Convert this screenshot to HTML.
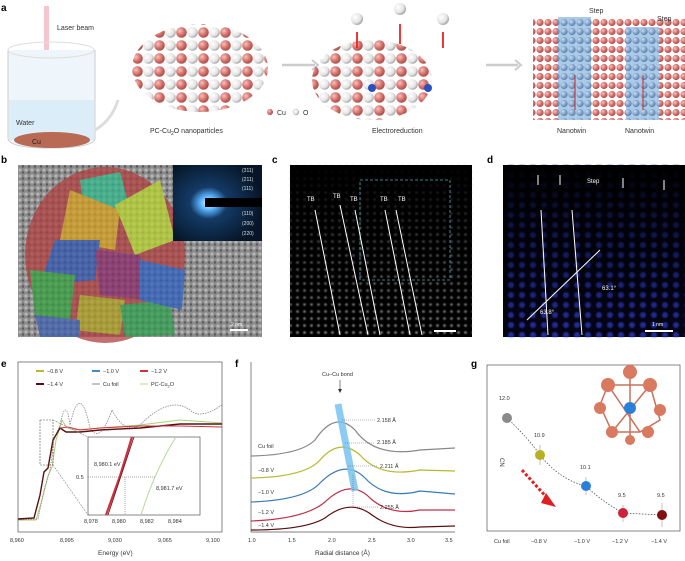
<!DOCTYPE html>
<html><head><meta charset="utf-8"><style>
html,body{margin:0;padding:0;background:#fff}
svg{display:block;font-family:"Liberation Sans",sans-serif}
</style></head><body>
<svg width="685" height="561" viewBox="0 0 685 561" xmlns="http://www.w3.org/2000/svg">
<defs>
<radialGradient id="cu" cx="35%" cy="35%" r="65%"><stop offset="0" stop-color="#f3c3bf"/><stop offset="0.6" stop-color="#d8716c"/><stop offset="1" stop-color="#a9504c"/></radialGradient>
<radialGradient id="ox" cx="35%" cy="35%" r="65%"><stop offset="0" stop-color="#ffffff"/><stop offset="0.7" stop-color="#e4e4e4"/><stop offset="1" stop-color="#aaa"/></radialGradient>
<radialGradient id="bl" cx="35%" cy="35%" r="65%"><stop offset="0" stop-color="#c9dcf3"/><stop offset="1" stop-color="#5c80b0"/></radialGradient>
<pattern id="cuP" width="8" height="9" patternUnits="userSpaceOnUse"><circle cx="4" cy="4.5" r="3.6" fill="url(#cu)"/></pattern>
<pattern id="blP" width="8" height="9" patternUnits="userSpaceOnUse"><rect width="8" height="9" fill="#a9cbe8"/><circle cx="4" cy="4.5" r="3.6" fill="url(#bl)"/></pattern>
<pattern id="mixP" width="22" height="13" patternUnits="userSpaceOnUse"><circle cx="5.5" cy="6.5" r="5.3" fill="url(#cu)"/><circle cx="16.5" cy="6.5" r="5.3" fill="url(#ox)"/></pattern>
<pattern id="dotW" width="7" height="7" patternUnits="userSpaceOnUse"><circle cx="3.5" cy="3.5" r="1.3" fill="#aaa"/></pattern>
<pattern id="dotB" width="11" height="10" patternUnits="userSpaceOnUse"><circle cx="5" cy="5" r="3" fill="#2c3bc8"/></pattern>
<pattern id="tem" width="6" height="6" patternUnits="userSpaceOnUse"><rect width="6" height="6" fill="#8a8a8a"/><circle cx="2" cy="2" r="1.6" fill="#b5b5b5"/><circle cx="5" cy="4.5" r="1.2" fill="#5a5a5a"/></pattern>
<linearGradient id="fadeC" x1="0" y1="0" x2="0" y2="1"><stop offset="0" stop-color="#000" stop-opacity="1"/><stop offset="0.5" stop-color="#000" stop-opacity="0.5"/><stop offset="1" stop-color="#000" stop-opacity="0.1"/></linearGradient>
<linearGradient id="fadeD" x1="0" y1="0" x2="0" y2="1"><stop offset="0" stop-color="#000" stop-opacity="1"/><stop offset="0.3" stop-color="#000" stop-opacity="0.7"/><stop offset="1" stop-color="#000" stop-opacity="0.2"/></linearGradient>
<radialGradient id="diff" cx="40%" cy="50%" r="60%"><stop offset="0" stop-color="#fff"/><stop offset="0.15" stop-color="#5ab4ff"/><stop offset="0.35" stop-color="#143a66"/><stop offset="1" stop-color="#061628"/></radialGradient>
<filter id="bl1"><feGaussianBlur stdDeviation="0.9"/></filter>
</defs>
<g font-size="7" fill="#333">
<!-- panel a -->
<text x="1" y="11" font-size="10" font-weight="bold" fill="#000">a</text>
<rect x="44" y="6" width="5" height="140" fill="#f4b8c4" opacity="0.8"/>
<text x="57" y="30" font-size="7">Laser beam</text>
<path d="M8 50 L8 138 Q8 148 50 148 Q95 148 95 138 L95 50" fill="#eef6fb" stroke="#ccc"/>
<ellipse cx="51" cy="50" rx="43" ry="8" fill="none" stroke="#ddd"/>
<rect x="9" y="100" width="85" height="40" fill="#d6ebf7" opacity="0.8"/>
<ellipse cx="52" cy="140" rx="38" ry="8" fill="#b86a55"/>
<text x="16" y="125" font-size="7">Water</text>
<text x="32" y="144" font-size="7" fill="#222">Cu</text>
<path d="M95 130 Q112 120 118 100" fill="none" stroke="#ddd" stroke-width="3"/>
<ellipse cx="200" cy="68" rx="68" ry="44" fill="url(#mixP)"/>
<text x="150" y="133" font-size="7">PC-Cu<tspan font-size="5" dy="2">2</tspan><tspan dy="-2">O nanoparticles</tspan></text>
<circle cx="270" cy="112" r="3" fill="url(#cu)"/><text x="277" y="115">Cu</text>
<circle cx="296" cy="112" r="3" fill="url(#ox)" stroke="#999" stroke-width="0.3"/><text x="303" y="115">O</text>
<path d="M282 65 L315 65" stroke="#ccc" stroke-width="2.5"/><path d="M312 60 L318 65 L312 70" fill="none" stroke="#ccc" stroke-width="2"/>
<ellipse cx="372" cy="80" rx="60" ry="40" fill="url(#mixP)"/>
<circle cx="357" cy="19" r="6" fill="url(#ox)"/><circle cx="400" cy="9" r="6" fill="url(#ox)"/><circle cx="443" cy="19" r="6" fill="url(#ox)"/>
<path d="M357 48 V32 M400 44 V24 M443 48 V32" stroke="#e22" stroke-width="1.8"/>
<circle cx="372" cy="88" r="4" fill="#2a4fc0"/><circle cx="428" cy="88" r="4" fill="#2a4fc0"/>
<text x="372" y="133" font-size="7">Electroreduction</text>
<path d="M486 65 L518 65" stroke="#ccc" stroke-width="2.5"/><path d="M515 60 L521 65 L515 70" fill="none" stroke="#ccc" stroke-width="2"/>
<rect x="533" y="17" width="152" height="103" fill="url(#cuP)"/>
<rect x="558" y="17" width="33" height="103" fill="url(#blP)"/>
<rect x="626" y="27" width="33" height="93" fill="url(#blP)"/>
<path d="M575 75 V110 M643 75 V110" stroke="#c22" stroke-width="1"/>
<text x="589" y="13" font-size="7">Step</text><text x="657" y="21" font-size="7">Step</text>
<text x="557" y="133" font-size="7">Nanotwin</text><text x="625" y="133" font-size="7">Nanotwin</text>
<!-- panel b -->
<text x="1" y="163" font-size="10" font-weight="bold" fill="#000">b</text>
<rect x="18" y="165" width="244" height="172" fill="url(#tem)"/>
<g opacity="0.75">
<ellipse cx="105" cy="255" rx="80" ry="88" fill="#b04040"/>
<polygon points="80,180 120,172 130,210 85,215" fill="#33b88c"/>
<polygon points="70,190 120,210 115,250 60,240" fill="#d6a020"/>
<polygon points="115,205 160,180 175,240 135,255" fill="#b8d430"/>
<polygon points="55,240 100,240 95,280 40,285" fill="#3355b0"/>
<polygon points="95,250 140,255 150,300 100,295" fill="#8a2a6a"/>
<polygon points="30,270 75,275 70,320 35,315" fill="#35a040"/>
<polygon points="80,295 125,300 120,335 75,330" fill="#b0a020"/>
<polygon points="120,305 170,300 175,335 125,337" fill="#30a050"/>
<polygon points="140,260 185,270 182,310 140,300" fill="#3060c0"/>
<polygon points="35,315 80,320 80,337 40,337" fill="#4060b0"/>
</g>
<rect x="173" y="165" width="89" height="76" fill="url(#diff)"/>
<rect x="205" y="198" width="57" height="9" fill="#000"/>
<g fill="#ddd" font-size="5"><text x="242" y="172">(311)</text><text x="242" y="181">(211)</text><text x="242" y="190">(111)</text><text x="242" y="215">(110)</text><text x="242" y="225">(200)</text><text x="242" y="235">(220)</text></g>
<rect x="230" y="329" width="18" height="2" fill="#fff"/><text x="231" y="326" fill="#fff" font-size="5">2 nm</text>
<!-- panel c -->
<text x="272" y="163" font-size="10" font-weight="bold" fill="#000">c</text>
<rect x="290" y="165" width="182" height="172" fill="#000"/>
<rect x="290" y="165" width="182" height="172" fill="url(#dotW)" filter="url(#bl1)"/>
<rect x="290" y="165" width="182" height="172" fill="url(#fadeC)"/>
<rect x="360" y="180" width="90" height="100" fill="none" stroke="#5aa" stroke-dasharray="3,2" stroke-width="0.8"/>
<g stroke="#fff" stroke-width="1"><path d="M315 210 L340 335 M340 205 L368 335 M355 210 L380 335 M385 210 L410 335 M396 210 L422 335"/></g>
<g fill="#fff" font-size="6"><text x="307" y="201">TB</text><text x="333" y="198">TB</text><text x="350" y="201">TB</text><text x="380" y="201">TB</text><text x="398" y="201">TB</text></g>
<rect x="434" y="330" width="22" height="2" fill="#fff"/>
<!-- panel d -->
<text x="487" y="163" font-size="10" font-weight="bold" fill="#000">d</text>
<rect x="503" y="165" width="182" height="172" fill="#05051a"/>
<rect x="503" y="165" width="182" height="172" fill="url(#dotB)" filter="url(#bl1)"/>
<rect x="503" y="165" width="182" height="172" fill="url(#fadeD)"/>
<text x="587" y="183" fill="#fff" font-size="6">Step</text>
<g stroke="#fff" stroke-width="1" fill="none"><path d="M541 210 L548 335 M572 210 L582 335 M527 320 L600 250"/><path d="M538 175 v10 M560 175 v10 M623 178 v10 M664 180 v10"/></g>
<g fill="#fff" font-size="6"><text x="602" y="290">63.1°</text><text x="540" y="314">63.8°</text></g>
<rect x="645" y="330" width="28" height="2" fill="#fff"/><text x="652" y="326" fill="#fff" font-size="5">1 nm</text>
<!-- panel e -->
<text x="1" y="367" font-size="10" font-weight="bold" fill="#000">e</text>
<rect x="18" y="362" width="204" height="170" fill="none" stroke="#555" stroke-width="0.7"/>
<g font-size="5.5" fill="#333">
<path d="M36 371 h8" stroke="#b8b830" stroke-width="2"/><text x="47" y="373">−0.8 V</text>
<path d="M92 371 h8" stroke="#3a8ed0" stroke-width="2"/><text x="103" y="373">−1.0 V</text>
<path d="M140 371 h8" stroke="#d03040" stroke-width="2"/><text x="151" y="373">−1.2 V</text>
<path d="M36 384 h8" stroke="#5a1010" stroke-width="2"/><text x="47" y="386">−1.4 V</text>
<path d="M92 384 h8" stroke="#888" stroke-width="1"/><text x="103" y="386">Cu foil</text>
<path d="M140 384 h8" stroke="#b8d890" stroke-width="1"/><text x="151" y="386">PC-Cu<tspan font-size="4" dy="1.5">2</tspan><tspan dy="-1.5">O</tspan></text>
</g>
<path d="M18 520 L36 520 L42 500 L48 476 L52 467 L56 440 L62 420 L67 428 L75 430 L100 428 L140 425 L180 420 L222 423" fill="none" stroke="#aad070" stroke-width="1"/>
<path d="M18 520 L38 519 L44 490 L50 470 L54 440 L60 425 Q66 395 70 425 Q80 380 90 428 Q100 445 112 410 Q125 435 140 425 Q170 395 190 410 Q200 420 222 405" fill="none" stroke="#888" stroke-width="0.8" stroke-dasharray="1.5,1"/>
<path d="M18 519 L34 518 L40 495 L44 472 L48 468 L53 440 L60 428 L66 432 L80 432 L100 430 L140 428 L180 424 L222 424" fill="none" stroke="#5a1010" stroke-width="1.4"/>
<path d="M60 428 L68 427 L80 430 L100 428 L140 426 L180 426 L222 427" fill="none" stroke="#d03040" stroke-width="1"/>
<rect x="40" y="420" width="13" height="45" fill="none" stroke="#555" stroke-dasharray="2,1" stroke-width="0.6"/>
<path d="M53 420 L88 437 M53 465 L88 515" stroke="#888" stroke-dasharray="2,1" stroke-width="0.6"/>
<rect x="88" y="437" width="112" height="78" fill="#fff" stroke="#555" stroke-width="0.7"/>
<path d="M106 515 L120 476 L132 437" stroke="#d03040" stroke-width="2.2" fill="none"/>
<path d="M108 515 L121 476 L134 437" stroke="#5a1010" stroke-width="0.8" fill="none"/>
<path d="M141 515 Q155 470 176 437" stroke="#b8d890" stroke-width="1" fill="none"/>
<path d="M88 477 H155 M125 477 V515" stroke="#555" stroke-dasharray="1,1" stroke-width="0.5"/>
<g font-size="5.5"><text x="76" y="479">0.5</text><text x="94" y="466">8,980.1 eV</text><text x="156" y="490">8,981.7 eV</text>
<text x="84" y="523">8,978</text><text x="112" y="523">8,980</text><text x="140" y="523">8,982</text><text x="168" y="523">8,984</text>
<text x="10" y="542">8,960</text><text x="60" y="542">8,995</text><text x="108" y="542">9,030</text><text x="158" y="542">9,065</text><text x="206" y="542">9,100</text></g>
<text x="98" y="555" font-size="6.5">Energy (eV)</text>
<!-- panel f -->
<text x="235" y="367" font-size="10" font-weight="bold" fill="#000">f</text>
<path d="M251 362 V532 H455" fill="none" stroke="#555" stroke-width="0.7"/>
<path d="M251 456 Q300 455 315 440 Q335 410 355 430 Q375 458 420 450 L455 448" fill="none" stroke="#888" stroke-width="1.2"/>
<path d="M251 478 Q305 477 320 460 Q340 437 360 455 Q380 478 420 470 L455 471" fill="none" stroke="#b8b830" stroke-width="1.2"/>
<path d="M251 502 Q305 500 320 483 Q345 458 365 478 Q385 500 420 491 L455 494" fill="none" stroke="#3a7ab8" stroke-width="1.2"/>
<path d="M251 521 Q305 519 325 502 Q350 478 370 498 Q390 516 420 510 L455 510" fill="none" stroke="#c03048" stroke-width="1.2"/>
<path d="M251 530 Q305 530 325 518 Q350 498 372 515 Q392 530 420 527 L455 526" fill="none" stroke="#5a1010" stroke-width="1.2"/>
<path d="M338 404 L355 491" stroke="#7ac4f0" stroke-width="7" opacity="0.85"/>
<path d="M340 380 V392" stroke="#333" stroke-width="0.6"/><path d="M338 389 L340 393 L342 389" fill="#333"/>
<g font-size="5.5"><text x="322" y="376">Cu–Cu bond</text>
<text x="258" y="448">Cu foil</text><text x="258" y="472">−0.8 V</text><text x="258" y="494">−1.0 V</text><text x="258" y="514">−1.2 V</text><text x="258" y="527">−1.4 V</text>
<text x="377" y="422">2.158 Å</text><text x="377" y="444">2.185 Å</text><text x="380" y="468">2.211 Å</text><text x="380" y="509">2.255 Å</text>
<text x="248" y="542">1.0</text><text x="288" y="542">1.5</text><text x="328" y="542">2.0</text><text x="368" y="542">2.5</text><text x="407" y="542">3.0</text><text x="445" y="542">3.5</text></g>
<path d="M342 420 H375 M345 443 H375 M348 466 H378 M353 507 H378 M353 475 V507" stroke="#444" stroke-width="0.4" stroke-dasharray="1,1"/>
<text x="315" y="555" font-size="6.5">Radial distance (Å)</text>
<!-- panel g -->
<text x="471" y="367" font-size="10" font-weight="bold" fill="#000">g</text>
<rect x="487" y="365" width="193" height="166" fill="none" stroke="#555" stroke-width="0.7"/>
<text x="500" y="458" font-size="6" transform="rotate(90 500 458)">CN</text>
<path d="M507 418 Q530 440 540 455 Q560 480 586 486 Q600 500 623 513 L662 515" fill="none" stroke="#555" stroke-dasharray="1.5,1.5" stroke-width="0.8"/>
<g stroke="#999" stroke-width="0.6"><path d="M540 445 V465 M586 477 V495 M623 505 V522 M662 503 V527"/></g>
<circle cx="507" cy="418" r="5" fill="#8a8a8a"/><circle cx="540" cy="455" r="5" fill="#b8b020"/><circle cx="586" cy="486" r="5" fill="#2a80d8"/><circle cx="623" cy="513" r="5" fill="#d0203a"/><circle cx="662" cy="515" r="5" fill="#801010"/>
<g font-size="5.5"><text x="499" y="400">12.0</text><text x="534" y="437">10.9</text><text x="580" y="469">10.1</text><text x="618" y="497">9.5</text><text x="657" y="497">9.5</text>
<text x="494" y="543">Cu foil</text><text x="531" y="543">−0.8 V</text><text x="574" y="543">−1.0 V</text><text x="612" y="543">−1.2 V</text><text x="651" y="543">−1.4 V</text></g>
<path d="M522 470 L549 500" stroke="#e02020" stroke-width="3" stroke-dasharray="3,2"/><polygon points="546,493 556,507 541,503" fill="#e02020"/>
<g stroke="#c8705a" stroke-width="1.5" fill="none"><path d="M608 385 L650 385 L660 420 L640 432 L612 432 L600 405 Z M630 372 L630 440 M608 385 L640 432 M650 385 L612 432"/></g>
<g fill="#d9795f"><circle cx="630" cy="372" r="7"/><circle cx="608" cy="385" r="7"/><circle cx="650" cy="385" r="7"/><circle cx="600" cy="408" r="6"/><circle cx="660" cy="410" r="6"/><circle cx="612" cy="432" r="6"/><circle cx="648" cy="432" r="6"/><circle cx="630" cy="440" r="5"/></g>
<circle cx="630" cy="408" r="6" fill="#2a80d8"/>
</g>
</svg>
</body></html>
